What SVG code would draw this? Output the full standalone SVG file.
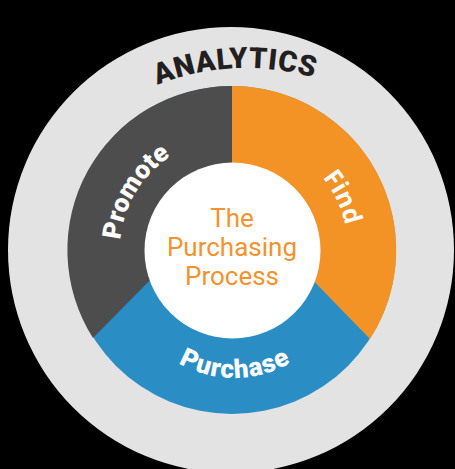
<svg xmlns="http://www.w3.org/2000/svg" width="455" height="469" viewBox="0 0 455 469">
<style>
.seg{font-family:Roboto,"Liberation Sans",sans-serif;font-weight:900;fill:#ffffff;font-size:26px}
.find{font-family:"Open Sans","Liberation Sans",sans-serif;font-weight:700;fill:#ffffff;font-size:25px}
.ana{font-family:Roboto,"Liberation Sans",sans-serif;font-weight:900;fill:#231f20;font-size:29px;letter-spacing:0.6px}
.ctr{font-family:Roboto,"Liberation Sans",sans-serif;font-weight:400;fill:#f29330;font-size:26px;text-anchor:middle}
</style>
<defs>
<path id="pAna" d="M6,308 A240,240 0 0 1 486,308"/>
<path id="pPromote" d="M134,304.3 A112,112 0 0 1 233.95,138"/>
<path id="pFind" d="M241.1,134.4 A116,116 0 0 1 327.6,315.7"/>
<path id="pPurchase" d="M137,322 A112,112 0 0 0 331,322"/>
</defs>
<rect width="455" height="469" fill="#000000"/>
<g id="analytics">
<circle cx="231" cy="250" r="223" fill="#e3e3e3"/>
<text class="ana" text-anchor="middle"><textPath href="#pAna" startOffset="366">ANALYTICS</textPath></text>
</g>
<g id="purchase">
<circle cx="232" cy="250" r="164" fill="#2a8ec4"/>
<text class="seg" style="letter-spacing:1px" text-anchor="middle"><textPath href="#pPurchase" startOffset="50.5%">Purchase</textPath></text>
</g>
<g id="find">
<path d="M232,197 L232,86 A164,164 0 0 1 370,339 Z" fill="#f39325"/>
<text class="find" text-anchor="middle"><textPath href="#pFind" startOffset="50%">Find</textPath></text>
</g>
<g id="promote">
<path d="M232,197 L93,338 A164,164 0 0 1 232,86 Z" fill="#4d4d4d"/>
<text class="seg" text-anchor="middle"><textPath href="#pPromote" startOffset="50%">Promote</textPath></text>
</g>
<g id="center">
<circle cx="232.5" cy="250.5" r="88" fill="#ffffff"/>
<text class="ctr" x="232" y="227">The</text>
<text class="ctr" x="232" y="256">Purchasing</text>
<text class="ctr" x="232" y="285">Process</text>
</g>
</svg>
